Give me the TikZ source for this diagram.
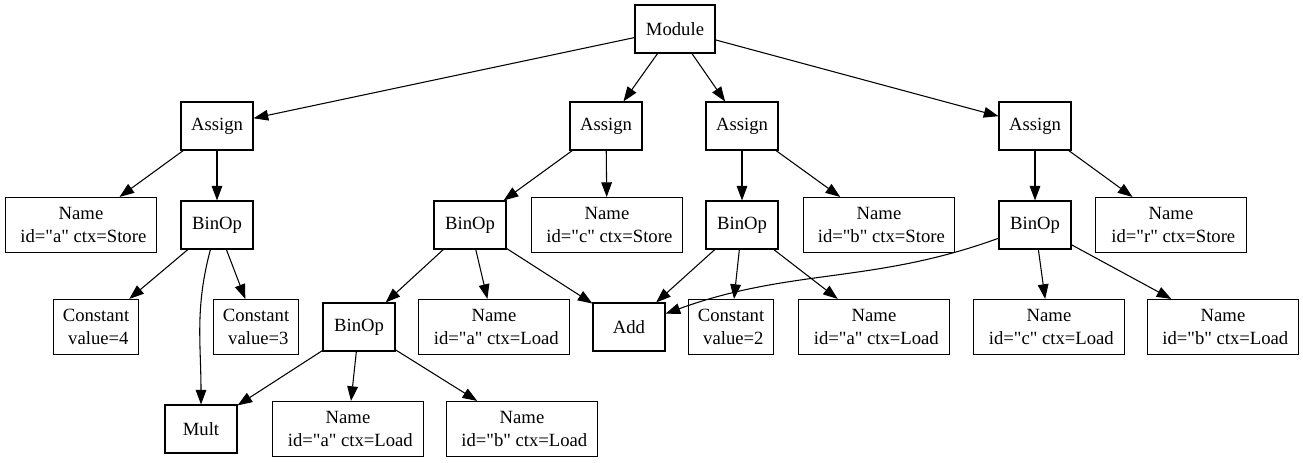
\documentclass[tikz,border=0pt]{standalone}
\usepackage{fontspec}
\setmainfont{Liberation Serif}[Ligatures=TeXOff]
\usetikzlibrary{arrows.meta}
\begin{document}
\begin{tikzpicture}[x=.75pt,y=.75pt,>={Triangle[length=11pt,width=8pt]},
box/.style={draw,minimum width=54pt,minimum height=36pt,inner sep=2pt,
  font=\fontsize{14}{17}\selectfont,align=center},
namebox/.style={box,minimum width=113pt,minimum height=41.25pt},
constbox/.style={box,minimum width=64pt,minimum height=41.25pt}]
\pgfsetlinewidth{.8pt}
\useasboundingbox (0,0) rectangle (1303,463);
%
% niveles del arbol
\node[box,minimum width=60pt] (module) at (675,434) {Module};
\node[box] (as1) at (217,337) {Assign};
\node[box] (as2) at (606,337) {Assign};
\node[box] (as3) at (742,337) {Assign};
\node[box] (as4) at (1035,337) {Assign};
%
\node[namebox] (nameA) at (81,238) {Name\\\hspace*{.25em}id="a" ctx=Store};
\node[box] (bin1) at (217,238) {BinOp};
\node[box] (bin2) at (470,238) {BinOp};
\node[namebox] (nameC) at (607,238) {Name\\\hspace*{.25em}id="c" ctx=Store};
\node[box] (bin3) at (742,238) {BinOp};
\node[namebox] (nameB) at (879,238) {Name\\\hspace*{.25em}id="b" ctx=Store};
\node[box] (bin4) at (1035,238) {BinOp};
\node[namebox] (nameR) at (1171,238) {Name\\\hspace*{.25em}id="r" ctx=Store};
%
\node[constbox] (con4) at (96,136) {Constant\\\hspace*{.25em}value=4};
\node[constbox] (con3) at (256,136) {Constant\\\hspace*{.25em}value=3};
\node[box] (bin5) at (359,136) {BinOp};
\node[namebox] (loadA1) at (494,136) {Name\\\hspace*{.25em}id="a" ctx=Load};
\node[box] (add) at (629,136) {Add};
\node[constbox] (con2) at (731,136) {Constant\\\hspace*{.25em}value=2};
\node[namebox] (loadA2) at (874,136) {Name\\\hspace*{.25em}id="a" ctx=Load};
\node[namebox] (loadC) at (1049,136) {Name\\\hspace*{.25em}id="c" ctx=Load};
\node[namebox] (loadB1) at (1223,136) {Name\\\hspace*{.25em}id="b" ctx=Load};
%
\node[box] (mult) at (201,34) {Mult};
\node[namebox] (loadA3) at (348,34) {Name\\\hspace*{.25em}id="a" ctx=Load};
\node[namebox] (loadB2) at (522,34) {Name\\\hspace*{.25em}id="b" ctx=Load};
%
% aristas
\foreach \desde/\hasta in {module/as1,module/as2,module/as3,module/as4,%
as1/nameA,as1/bin1,as2/bin2,as2/nameC,as3/bin3,as3/nameB,as4/bin4,as4/nameR,%
bin1/con4,bin1/con3,bin2/bin5,bin2/loadA1,bin2/add,bin5/mult,bin5/loadA3,%
bin5/loadB2,bin3/add,bin3/con2,bin3/loadA2,bin4/loadC,bin4/loadB1}
\draw[->] (\desde) -- (\hasta);
\draw[->] (bin1) to[out=-105,in=90] (mult);
\draw[->] (bin4) to[out=200,in=20] (add);
\end{tikzpicture}
\end{document}
